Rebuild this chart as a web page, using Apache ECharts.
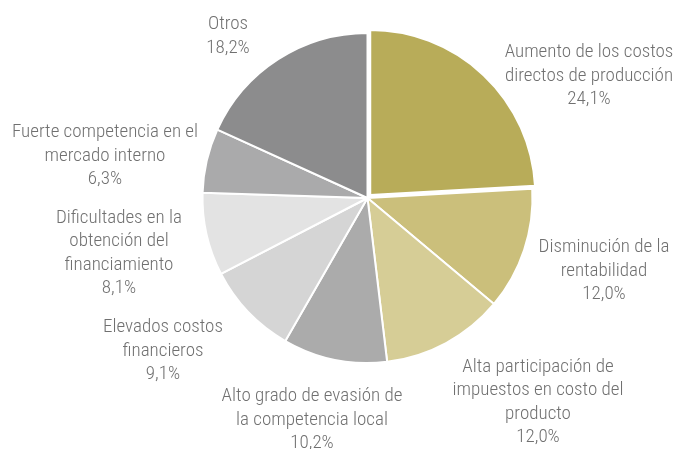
<!DOCTYPE html>
<html><head><meta charset="utf-8">
<script src="https://cdn.jsdelivr.net/npm/echarts@6/dist/echarts.min.js"></script>
<style>html,body{margin:0;padding:0;background:#fff}#c{width:676px;height:449px}</style>
</head><body><div id="c"></div>
<script>
const categories = [
  "Aumento de los costos\ndirectos de producción",
  "Disminución de la\nrentabilidad",
  "Alta participación de\nimpuestos en costo del\nproducto",
  "Alto grado de evasión de\nla competencia local",
  "Elevados costos\nfinancieros",
  "Dificultades en la\nobtención del\nfinanciamiento",
  "Fuerte competencia en el\nmercado interno",
  "Otros"
];
const values = [24.1, 12.0, 12.0, 10.2, 9.1, 8.1, 6.3, 18.2];
const colors = ["#b8ac59", "#cbbf7b", "#d6cd96", "#ababab", "#d5d5d5", "#e3e3e3", "#aaaaab", "#8c8c8d"];
const labelPos = [[589, 76], [604, 271], [538, 402], [312, 420], [163, 351], [119, 253], [105, 156], [228, 36]];

const common = {
  type: 'pie',
  center: [367.5, 198],
  radius: 165,
  startAngle: 90,
  clockwise: true,
  silent: true
};

const chart = echarts.init(document.getElementById('c'), null, {renderer: 'canvas'});
chart.setOption({
  animation: false,
  series: [
    Object.assign({}, common, {
      selectedMode: 'single',
      selectedOffset: 4,
      itemStyle: {borderColor: '#fff', borderWidth: 2},
      label: {show: false},
      labelLine: {show: false},
      data: categories.map((c, i) => ({name: c, value: values[i], selected: i === 0, itemStyle: {color: colors[i]}}))
    }),
    Object.assign({}, common, {
      z: 3,
      itemStyle: {color: 'rgba(0,0,0,0)', borderWidth: 0},
      label: {
        show: true,
        position: 'outside',
        fontFamily: '"Roboto Condensed", "DejaVu Sans Condensed", sans-serif',
        fontWeight: 300,
        fontSize: 19,
        lineHeight: 23.5,
        color: '#707070',
        align: 'center',
        overflow: 'none',
        formatter: p => p.name + '\n' + p.value.toFixed(1).replace('.', ',') + '%'
      },
      labelLine: {show: false},
      labelLayout: p => ({x: labelPos[p.dataIndex][0], y: labelPos[p.dataIndex][1], align: 'center', verticalAlign: 'middle'}),
      data: categories.map((c, i) => ({name: c, value: values[i]}))
    })
  ]
});
</script></body></html>
